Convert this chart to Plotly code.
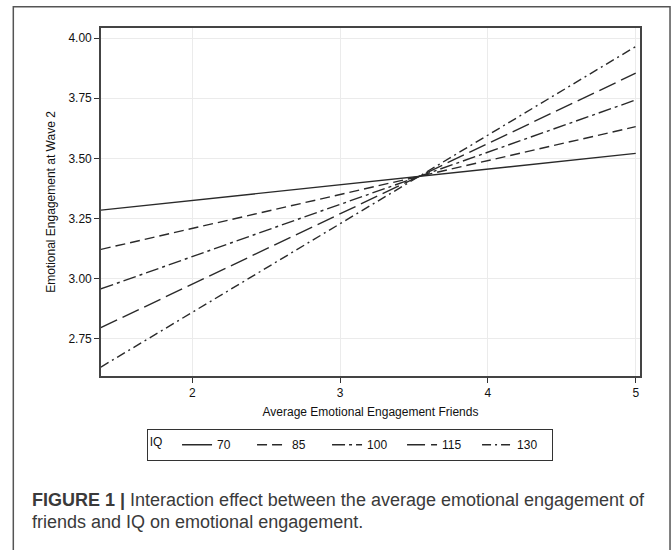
import plotly.graph_objects as go

# Data
iq_levels = ["70", "85", "100", "115", "130"]
x_start, x_end = 1.38, 5.0
y_at_start = [3.285, 3.122, 2.958, 2.797, 2.633]
y_at_end = [3.521, 3.632, 3.743, 3.854, 3.965]
dash_styles = ["solid", "10px,5px", "13px,4px,3px,4px", "18px,6px", "9px,4px,2px,4px"]

x_ticks = [2, 3, 4, 5]
y_ticks = [2.75, 3.00, 3.25, 3.50, 3.75, 4.00]
y_tick_labels = ["2.75", "3.00", "3.25", "3.50", "3.75", "4.00"]

FONT = "Liberation Sans, Arial, sans-serif"

fig = go.Figure()
for name, y0, y1, dash in zip(iq_levels, y_at_start, y_at_end, dash_styles):
    fig.add_trace(go.Scatter(
        x=[x_start, x_end], y=[y0, y1], mode="lines", name=name,
        line=dict(color="#2a2a2a", width=1.4, dash=dash),
    ))

axis_common = dict(
    showline=True, linecolor="#444444", linewidth=1.6, mirror=True,
    ticks="outside", ticklen=5, tickwidth=1.3, tickcolor="#333333",
    showgrid=True, gridcolor="#ebebeb", gridwidth=1, zeroline=False,
    tickfont=dict(family=FONT, size=12, color="#111111"),
)

fig.update_xaxes(
    range=[1.381, 5.029], tickvals=x_ticks,
    title=dict(text="Average Emotional Engagement Friends",
               font=dict(family=FONT, size=12, color="#111111"),
               standoff=8),
    **axis_common,
)
fig.update_yaxes(
    range=[2.596, 4.042], tickvals=y_ticks, ticktext=y_tick_labels,
    title=dict(text="Emotional Engagement at Wave 2",
               font=dict(family=FONT, size=12, color="#111111"),
               standoff=10),
    **axis_common,
)

fig.add_shape(type="rect", xref="paper", yref="paper",
              x0=-0.1627, x1=1.0557, y0=-0.54, y1=1.0612,
              line=dict(color="#555555", width=1.5), fillcolor="rgba(0,0,0,0)", layer="below")

cap_font = dict(family=FONT, size=18, color="#3a3a3a")
fig.add_annotation(xref="paper", yref="paper", x=(30 - 101) / 539, y=(376 - 500) / 348,
                   xanchor="left", yanchor="middle", showarrow=False, align="left",
                   text="<b>FIGURE 1 |</b> Interaction effect between the average emotional engagement of",
                   font=cap_font)
fig.add_annotation(xref="paper", yref="paper", x=(30 - 101) / 539, y=(376 - 522) / 348,
                   xanchor="left", yanchor="middle", showarrow=False, align="left",
                   text="friends and IQ on emotional engagement.",
                   font=cap_font)

fig.update_layout(
    width=672, height=550,
    margin=dict(l=101, r=32, t=28, b=174, autoexpand=False),
    paper_bgcolor="white", plot_bgcolor="white",
    showlegend=True,
    legend=dict(
        orientation="h", x=(350 - 101) / 539, xanchor="center", y=(376 - 429) / 348, yanchor="top",
        bordercolor="#333333", borderwidth=1.2,
        title=dict(text="IQ  ", font=dict(family=FONT, size=12, color="#111111")),
        font=dict(family=FONT, size=12, color="#111111"),
        entrywidth=30, entrywidthmode="pixels", tracegroupgap=0,
    ),
)

fig.write_html("out.html", config={"displayModeBar": False},
               post_script="document.body.style.margin='0px';")
